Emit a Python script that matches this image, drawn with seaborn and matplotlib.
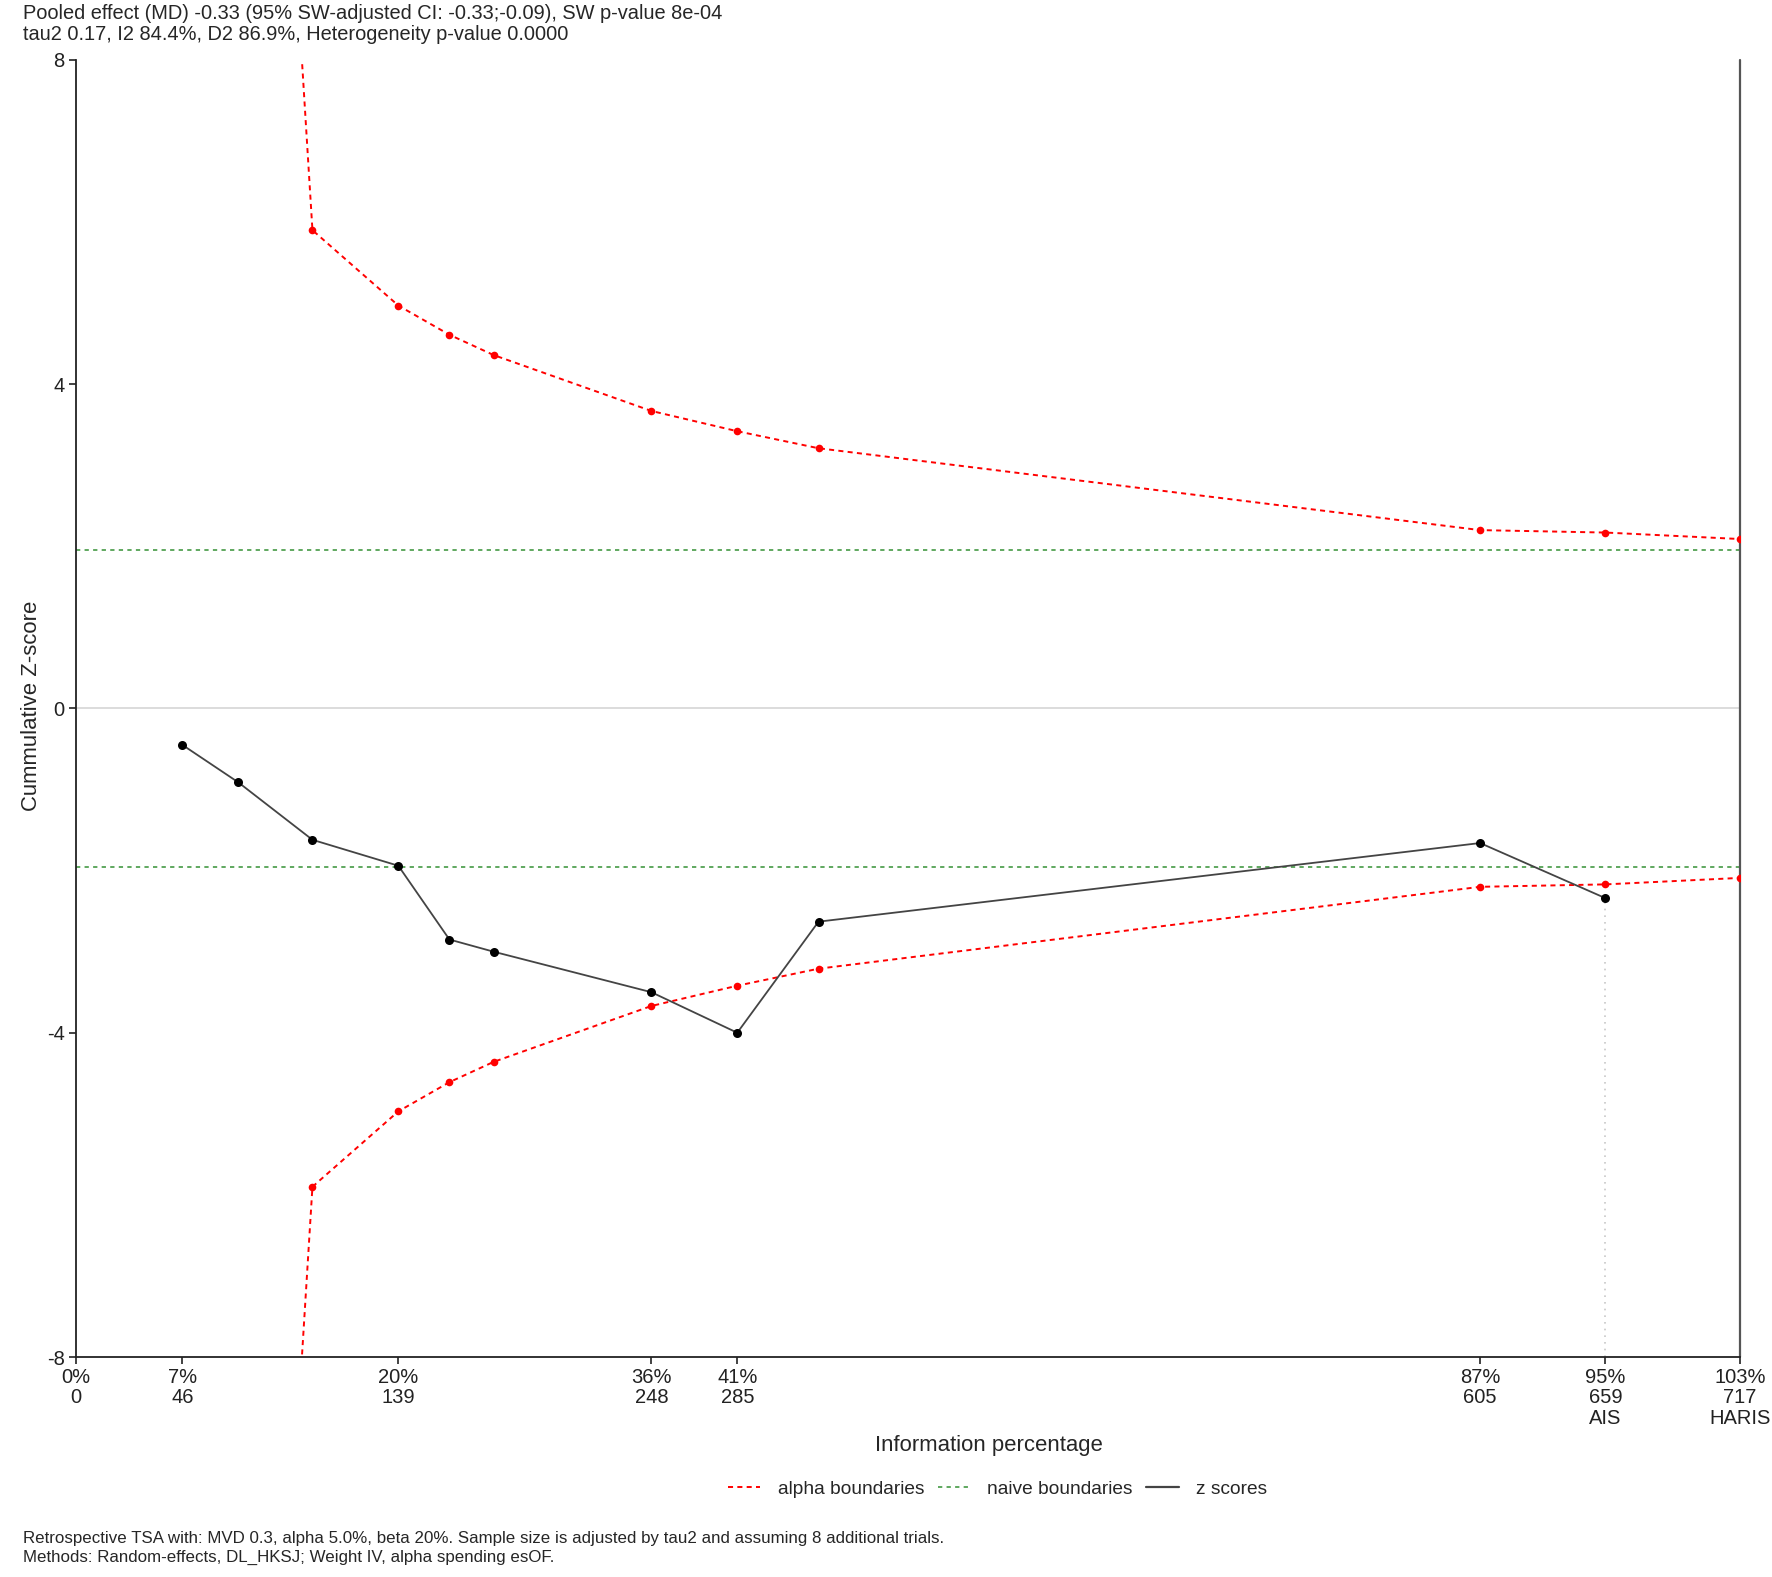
import numpy as np
import pandas as pd
import seaborn as sns
import matplotlib.pyplot as plt
from matplotlib.lines import Line2D

sns.set_theme(style="ticks")
plt.rcParams['font.family'] = ['Liberation Sans', 'DejaVu Sans']
plt.rcParams['axes.unicode_minus'] = False

# cumulative sample size after each trial and the cumulative z score
sample_size = [46, 70, 102, 139, 161, 180, 248, 285, 320, 605, 659]
z_scores = [-0.45, -0.91, -1.62, -1.94, -2.85, -3.00, -3.50, -4.00, -2.63, -1.66, -2.34]

# alpha spending boundaries (the lower one mirrors the upper one)
bound_size = [70, 102, 139, 161, 180, 248, 285, 320, 605, 659, 717]
alpha_upper = [20.7, 5.90, 4.97, 4.61, 4.36, 3.67, 3.42, 3.21, 2.20, 2.17, 2.09]
alpha_lower = [-v for v in alpha_upper]
naive_bound = 1.96

tick_pos = [0, 46, 139, 248, 285, 605, 659, 717]
tick_labels = ["0%\n0", "7%\n46", "20%\n139", "36%\n248", "41%\n285",
               "87%\n605", "95%\n659\nAIS", "103%\n717\nHARIS"]
ais = 659
haris = 717

title1 = "Pooled effect (MD) -0.33 (95% SW-adjusted CI: -0.33;-0.09), SW p-value 8e-04"
title2 = "tau2 0.17, I2 84.4%, D2 86.9%, Heterogeneity p-value 0.0000"
caption1 = "Retrospective TSA with: MVD 0.3, alpha 5.0%, beta 20%. Sample size is adjusted by tau2 and assuming 8 additional trials."
caption2 = "Methods: Random-effects, DL_HKSJ; Weight IV, alpha spending esOF."

fig = plt.figure(figsize=(17.72, 15.77), dpi=100)
ax = fig.add_axes([0.0427, 0.1395, 0.9393, 0.8225])

ax.axhline(0, color='#d9d9d9', lw=1.3, zorder=1)
for nb in [naive_bound, -naive_bound]:
    ax.axhline(nb, color='#5fa85f', lw=1.4, linestyle=(0, (2.2, 2.2)), zorder=2)

for bnd in [alpha_upper, alpha_lower]:
    sns.lineplot(x=bound_size, y=bnd, ax=ax, color='red', lw=1.4,
                 linestyle=(0, (2.6, 2.2)), marker='o', markersize=5.5,
                 markeredgewidth=0, zorder=3)

sns.lineplot(x=sample_size, y=z_scores, ax=ax, color='#444444', lw=1.3,
             marker='o', markersize=6.5, markerfacecolor='black',
             markeredgewidth=0, zorder=4)

ax.vlines(ais, -8, z_scores[sample_size.index(ais)], color='#c8c8c8', lw=1.2,
          linestyle=(0, (1, 3)), zorder=1)
ax.axvline(haris, color='#555555', lw=1.6, clip_on=False, zorder=2)

ax.set_xlim(0, haris)
ax.set_ylim(-8, 8)
ax.set_xticks(tick_pos)
ax.set_xticklabels(tick_labels, linespacing=1.08)
ax.set_yticks([-8, -4, 0, 4, 8])
ax.tick_params(direction='out', length=5, width=1.2, labelsize=14.5,
               colors='#222222', pad=3)
sns.despine(ax=ax)
for side in ['left', 'bottom']:
    ax.spines[side].set_color('#222222')
    ax.spines[side].set_linewidth(1.3)
ax.set_xlabel('')
ax.set_ylabel('')

fig.text(0.0128, 0.9914, title1, fontsize=14.4, va='center', ha='left')
fig.text(0.0128, 0.9784, title2, fontsize=14.4, va='center', ha='left')
fig.text(0.0178, 0.5525, 'Cummulative Z-score', fontsize=15.9, rotation=90,
         va='center', ha='center')
fig.text(0.558, 0.0837, 'Information percentage', fontsize=15.9, va='center', ha='center')
fig.text(0.0128, 0.0247, caption1, fontsize=12.2, va='center', ha='left')
fig.text(0.0128, 0.0127, caption2, fontsize=12.2, va='center', ha='left')

handles = [Line2D([], [], color='red', lw=1.4, linestyle=(0, (2.6, 2.2))),
           Line2D([], [], color='#5fa85f', lw=1.4, linestyle=(0, (2.2, 2.2))),
           Line2D([], [], color='#444444', lw=1.6)]
fig.legend(handles, ['alpha boundaries', 'naive boundaries', 'z scores'],
           loc='center', bbox_to_anchor=(0.563, 0.0558), ncol=3, frameon=False,
           fontsize=13.8, handlelength=1.7, columnspacing=0.7, handletextpad=0.9)

fig.savefig('out.png', dpi=100)
